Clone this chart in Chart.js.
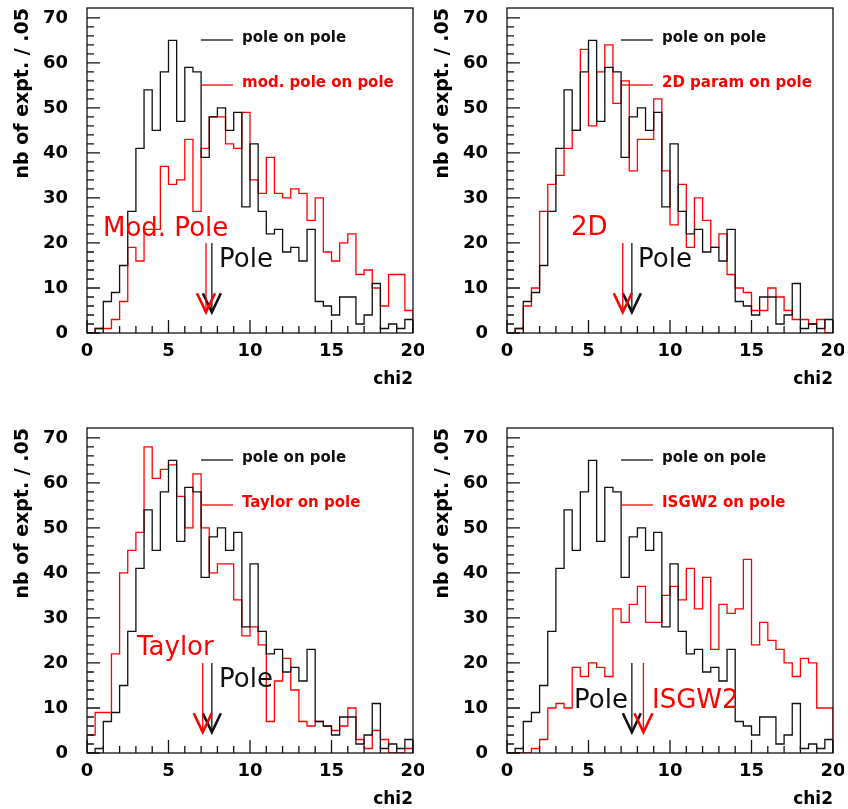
<!DOCTYPE html>
<html>
<head>
<meta charset="utf-8">
<script src="https://cdn.jsdelivr.net/npm/chart.js@4/dist/chart.umd.min.js"></script>
<style>
  html, body { margin: 0; padding: 0; background: #fff; overflow: hidden; }
  canvas { position: absolute; }
</style>
</head>
<body>
<canvas id="h1" width="424" height="404" style="left:0;top:0"></canvas>
<canvas id="h2" width="424" height="404" style="left:420px;top:0"></canvas>
<canvas id="h3" width="424" height="404" style="left:0;top:420px"></canvas>
<canvas id="h4" width="424" height="404" style="left:420px;top:420px"></canvas>
<script>
// chi2 histograms, 40 bins of 0.5 from 0 to 20
const BIN_WIDTH = 0.5;
const X_MIN = 0, X_MAX = 20;
const Y_MAX = 72.2;

const POLE      = [0, 1, 7, 9, 15, 27, 41, 54, 45, 58, 65, 47, 59, 58, 39, 48, 50, 45, 49, 28,
                   42, 27, 22, 23, 18, 19, 16, 23, 7, 6, 4, 8, 8, 2, 4, 11, 1, 2, 1, 3];
const MOD_POLE  = [0, 1, 1, 3, 7, 19, 16, 23, 23, 37, 33, 34, 43, 27, 41, 48, 48, 42, 41, 49,
                   34, 31, 39, 31, 30, 32, 31, 25, 30, 18, 16, 20, 22, 13, 14, 10, 6, 13, 13, 5];
const PARAM_2D  = [0, 1, 6, 10, 27, 33, 35, 41, 45, 63, 46, 58, 64, 51, 56, 36, 43, 43, 52, 36,
                   24, 33, 19, 30, 25, 19, 22, 13, 10, 9, 5, 5, 10, 8, 5, 3, 3, 2, 3, 0];
const TAYLOR    = [4, 9, 9, 22, 40, 45, 49, 68, 61, 63, 64, 57, 50, 62, 50, 40, 42, 42, 34, 26,
                   28, 24, 7, 16, 21, 14, 7, 6, 7, 6, 5, 6, 10, 3, 1, 5, 3, 0, 0, 1];
const ISGW2     = [0, 0, 0, 1, 3, 10, 11, 10, 19, 17, 20, 19, 17, 32, 29, 33, 37, 29, 29, 35,
                   37, 34, 41, 32, 39, 23, 33, 31, 32, 43, 24, 29, 25, 23, 20, 17, 21, 20, 10, 10];

// mean chi2 markers
const MEAN_POLE   = 7.66;
const MEAN_MOD    = 7.3;
const MEAN_2D     = 7.1;
const MEAN_TAYLOR = 7.1;
const MEAN_ISGW2  = 8.37;
const ARROW_FROM = 20, ARROW_TO = 4.6;

const X_TICKS_STEP = 5, X_MINOR_STEP = 1;
const Y_TICKS_STEP = 10, Y_MINOR_STEP = 2, Y_LAST_TICK = 70;

const RED = '#ff0000';
const BLACK = '#111111';

Chart.defaults.font.family = '"DejaVu Sans", sans-serif';
Chart.defaults.color = '#000';

// turn bin contents into an outline: rise at the left edge, fall at the right edge
function outline(values) {
  const pts = [{x: X_MIN, y: 0}];
  values.forEach((v, i) => pts.push({x: X_MIN + i * BIN_WIDTH, y: v}));
  pts.push({x: X_MAX, y: 0});
  return pts;
}

const decor = {
  id: 'decor',
  afterDatasetsDraw(chart, args, o) {
    const {ctx, chartArea: a, scales: {x, y}} = chart;
    ctx.save();

    // frame and inner tick marks
    ctx.strokeStyle = BLACK;
    ctx.lineWidth = 1.3;
    ctx.beginPath();
    for (let v = X_MIN; v <= X_MAX; v += X_MINOR_STEP) {
      const px = x.getPixelForValue(v);
      const len = v % X_TICKS_STEP === 0 ? 13 : 7;
      ctx.moveTo(px, a.bottom);
      ctx.lineTo(px, a.bottom - len);
    }
    for (let v = 0; v <= Y_LAST_TICK; v += Y_MINOR_STEP) {
      const py = y.getPixelForValue(v);
      const len = v % Y_TICKS_STEP === 0 ? 13 : 7;
      ctx.moveTo(a.left, py);
      ctx.lineTo(a.left + len, py);
    }
    ctx.stroke();
    ctx.strokeRect(a.left, a.top, a.right - a.left, a.bottom - a.top);

    // mean arrows
    o.arrows.forEach(ar => {
      const px = x.getPixelForValue(ar.x);
      const top = y.getPixelForValue(ARROW_FROM);
      const tip = y.getPixelForValue(ARROW_TO);
      ctx.strokeStyle = ar.color;
      ctx.lineWidth = 1.3;
      ctx.beginPath();
      ctx.moveTo(px, top);
      ctx.lineTo(px, tip);
      ctx.stroke();
      ctx.lineWidth = 2.6;
      ctx.beginPath();
      ctx.moveTo(px - 9, tip - 19);
      ctx.lineTo(px, tip);
      ctx.lineTo(px + 9, tip - 19);
      ctx.stroke();
    });

    // legend
    ctx.font = 'bold 15px "DejaVu Sans"';
    ctx.textBaseline = 'alphabetic';
    ctx.textAlign = 'left';
    o.legend.forEach(l => {
      ctx.strokeStyle = l.color;
      ctx.fillStyle = l.color;
      ctx.lineWidth = 1.3;
      ctx.beginPath();
      ctx.moveTo(a.left + 114, a.top + l.dy);
      ctx.lineTo(a.left + 146, a.top + l.dy);
      ctx.stroke();
      ctx.fillText(l.text, a.left + 155, a.top + l.dy + 2);
    });

    // big model labels
    ctx.font = '26px "DejaVu Sans"';
    o.labels.forEach(t => {
      ctx.fillStyle = t.color;
      ctx.fillText(t.text, a.left + t.dx, a.top + t.dy);
    });

    ctx.restore();
  }
};

function makePanel(id, redName, redValues, redMean, redLabel) {
  const legend = [
    {text: 'pole on pole', color: BLACK, dy: 32},
    {text: redName, color: RED, dy: 77}
  ];
  new Chart(document.getElementById(id), {
    type: 'line',
    data: {
      datasets: [
        {label: 'pole on pole', data: outline(POLE), borderColor: BLACK},
        {label: redName, data: outline(redValues), borderColor: RED}
      ]
    },
    options: {
      responsive: false,
      animation: false,
      devicePixelRatio: 1,
      layout: {padding: {top: 8, right: 11, left: 0, bottom: 0}},
      elements: {
        point: {radius: 0, hoverRadius: 0},
        line: {borderWidth: 1.3, stepped: 'before', tension: 0, fill: false}
      },
      scales: {
        x: {
          type: 'linear',
          min: X_MIN,
          max: X_MAX,
          afterFit: s => { s.height = 71; s.paddingLeft = 0; s.paddingRight = 0; },
          grid: {display: false, drawTicks: false},
          border: {display: false},
          ticks: {stepSize: X_TICKS_STEP, padding: 8, font: {size: 18, weight: 'bold'}},
          title: {display: true, text: 'chi2', align: 'end', padding: {top: 0, bottom: 14},
                  font: {size: 17, weight: 'bold'}}
        },
        y: {
          min: 0,
          max: Y_MAX,
          afterFit: s => { s.width = 87; s.paddingTop = 0; s.paddingBottom = 0; },
          grid: {display: false, drawTicks: false},
          border: {display: false},
          ticks: {stepSize: Y_TICKS_STEP, includeBounds: false, padding: 19,
                  font: {size: 18, weight: 'bold'}},
          title: {display: true, text: 'nb of expt. / .05', align: 'end', padding: {top: 12, bottom: 0},
                  font: {size: 19, weight: 'bold'}}
        }
      },
      plugins: {
        legend: {display: false},
        tooltip: {enabled: false},
        decor: {
          arrows: [
            {x: MEAN_POLE, color: BLACK},
            {x: redMean, color: RED}
          ],
          legend: legend,
          labels: redLabel
        }
      }
    },
    plugins: [decor]
  });
}

makePanel('h1', 'mod. pole on pole', MOD_POLE, MEAN_MOD, [
  {text: 'Mod. Pole', color: RED, dx: 16, dy: 228},
  {text: 'Pole', color: BLACK, dx: 132, dy: 259}
]);
makePanel('h2', '2D param on pole', PARAM_2D, MEAN_2D, [
  {text: '2D', color: RED, dx: 64, dy: 227},
  {text: 'Pole', color: BLACK, dx: 131, dy: 259}
]);
makePanel('h3', 'Taylor on pole', TAYLOR, MEAN_TAYLOR, [
  {text: 'Taylor', color: RED, dx: 50, dy: 227},
  {text: 'Pole', color: BLACK, dx: 132, dy: 259}
]);
makePanel('h4', 'ISGW2 on pole', ISGW2, MEAN_ISGW2, [
  {text: 'Pole', color: BLACK, dx: 67, dy: 280},
  {text: 'ISGW2', color: RED, dx: 145, dy: 280}
]);
</script>
</body>
</html>
